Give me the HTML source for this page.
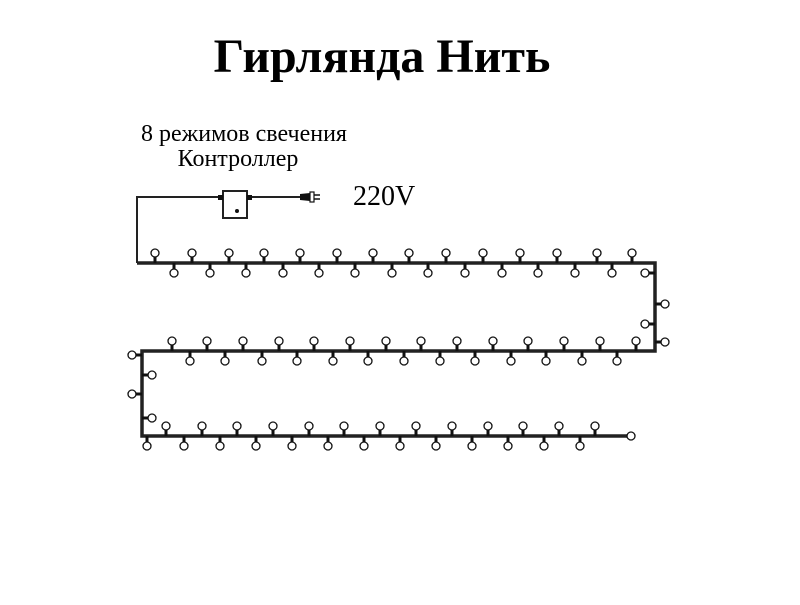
<!DOCTYPE html>
<html><head><meta charset="utf-8"><style>
body{margin:0;background:#fff;width:800px;height:600px;overflow:hidden}
</style></head><body>
<svg id="s" width="800" height="600" xmlns="http://www.w3.org/2000/svg" font-family="Liberation Serif, serif">
<text x="382" y="72" font-size="48" font-weight="bold" text-anchor="middle">Гирлянда Нить</text>
<text x="244" y="141" font-size="24" text-anchor="middle">8 режимов свечения</text>
<text x="238" y="166" font-size="24" text-anchor="middle">Контроллер</text>
<text x="353" y="205" font-size="28">220V</text>
<g stroke="#222" fill="none">
<polyline points="220,197 137,197 137,263" stroke-width="2"/>
<line x1="250" y1="197" x2="306" y2="197" stroke-width="2"/>
<polyline points="137,263 655,263 655,351 142,351 142,436 628,436" stroke-width="3.5"/>
<rect x="223" y="191" width="24" height="27" stroke-width="2" fill="#fff"/>
</g>
<rect x="218" y="195" width="5" height="5" fill="#111"/>
<rect x="247" y="195" width="5" height="5" fill="#111"/>
<circle cx="237" cy="211" r="2" fill="#111"/>
<path d="M300,194 L310,193 L310,201 L300,200 Z" fill="#111"/>
<rect x="310" y="192" width="4" height="10" fill="#fff" stroke="#111" stroke-width="1.2"/>
<line x1="314" y1="195" x2="320" y2="195" stroke="#111" stroke-width="1.5"/>
<line x1="314" y1="199" x2="320" y2="199" stroke="#111" stroke-width="1.5"/>
<g id="b" stroke="#111" stroke-width="1.3" fill="#fff"></g>
<circle cx="631" cy="436" r="4" fill="#fff" stroke="#111" stroke-width="1.3"/>
</svg>
<script>
var g=document.getElementById('b'),h='';
function up(x,y){h+='<rect x="'+(x-1.5)+'" y="'+(y-8)+'" width="3" height="8" fill="#111" stroke="none"/><circle cx="'+x+'" cy="'+(y-10)+'" r="4"/>';}
function dn(x,y){h+='<rect x="'+(x-1.5)+'" y="'+y+'" width="3" height="8" fill="#111" stroke="none"/><circle cx="'+x+'" cy="'+(y+10)+'" r="4"/>';}
function lf(x,y){h+='<rect x="'+(x-8)+'" y="'+(y-1.5)+'" width="8" height="3" fill="#111" stroke="none"/><circle cx="'+(x-10)+'" cy="'+y+'" r="4"/>';}
function rt(x,y){h+='<rect x="'+x+'" y="'+(y-1.5)+'" width="8" height="3" fill="#111" stroke="none"/><circle cx="'+(x+10)+'" cy="'+y+'" r="4"/>';}
[155,192,229,264,300,337,373,409,446,483,520,557,597,632].forEach(function(x){up(x,263)});
[174,210,246,283,319,355,392,428,465,502,538,575,612].forEach(function(x){dn(x,263)});
[172,207,243,279,314,350,386,421,457,493,528,564,600,636].forEach(function(x){up(x,351)});
[190,225,262,297,333,368,404,440,475,511,546,582,617].forEach(function(x){dn(x,351)});
[166,202,237,273,309,344,380,416,452,488,523,559,595].forEach(function(x){up(x,436)});
[147,184,220,256,292,328,364,400,436,472,508,544,580].forEach(function(x){dn(x,436)});
lf(655,273);rt(655,304);lf(655,324);rt(655,342);
lf(142,355);rt(142,375);lf(142,394);rt(142,418);
g.innerHTML=h;
</script>
</body></html>
